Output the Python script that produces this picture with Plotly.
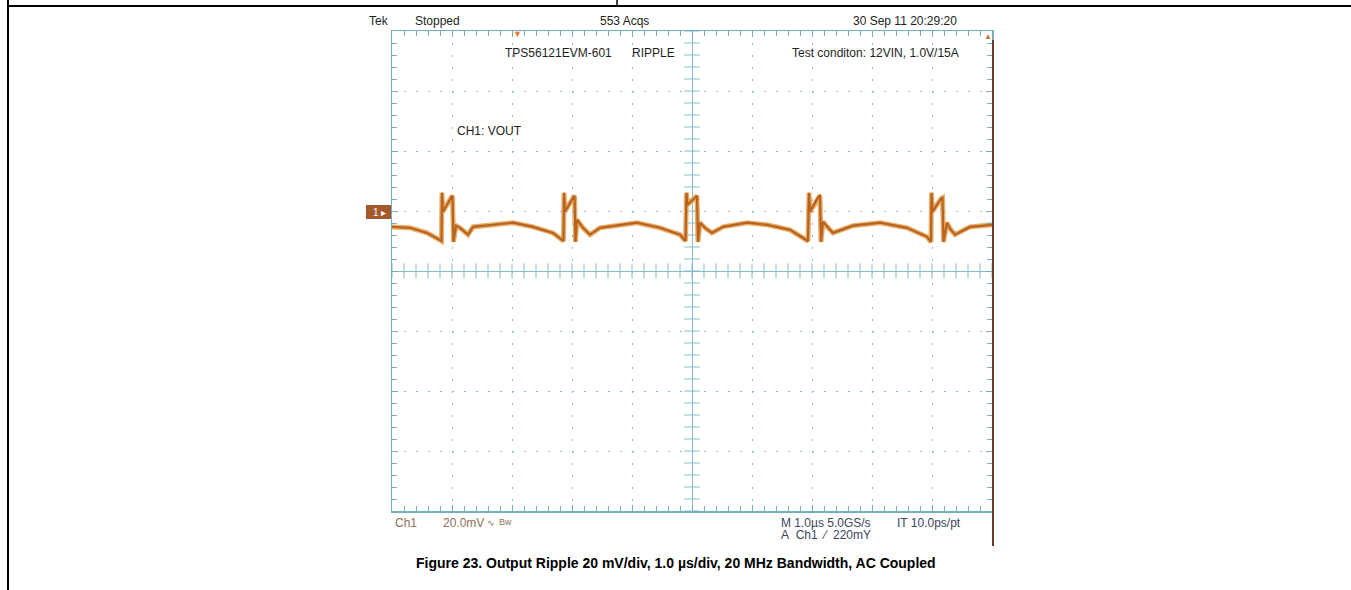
import numpy as np
import plotly.graph_objects as go

# ---------------- data ----------------
# time in microseconds (1.0 us/div, centre = 0), ripple in mV (20 mV/div, centre = 0)
TIME_US = [-5.000, -4.700, -4.417, -4.200, -4.175, -4.167, -4.150, -4.017, -3.992, -3.975,
           -3.933, -3.867, -3.733, -3.650, -3.317, -2.983, -2.650, -2.317, -2.167,
           -2.142, -2.133, -2.117, -1.983, -1.958, -1.942, -1.917, -1.817, -1.700, -1.533,
           -1.200, -0.917, -0.533, -0.200, -0.108,
           -0.092, -0.075, 0.058, 0.083, 0.100, 0.133, 0.233, 0.333, 0.517, 0.917, 1.250,
           1.633, 1.933,
           1.950, 1.967, 2.108, 2.133, 2.150, 2.183, 2.267, 2.350, 2.683, 3.133, 3.583,
           3.917, 3.983,
           3.992, 4.008, 4.150, 4.175, 4.192, 4.250, 4.300, 4.383, 4.633, 5.000]
RIPPLE_MV = [14.7, 14.4, 12.7, 10.4, 10.0, 26.1, 19.8, 24.4, 25.1, 9.7,
             15.1, 14.4, 12.1, 14.7, 15.4, 16.1, 14.7, 12.7, 10.4,
             10.0, 26.1, 19.8, 24.4, 25.1, 9.7, 17.1, 14.4, 12.1, 14.4,
             15.4, 16.1, 14.4, 12.1, 10.0,
             26.1, 22.1, 24.8, 25.1, 9.7, 16.1, 14.1, 12.7, 14.7, 16.1, 15.4,
             13.7, 10.0,
             26.1, 19.8, 24.8, 25.1, 9.7, 16.4, 14.4, 12.7, 15.1, 16.1, 14.4,
             11.4, 9.7,
             26.1, 19.8, 24.1, 24.4, 9.7, 16.1, 14.1, 12.1, 14.7, 15.4]

X_RANGE = [-5, 5]      # 10 horizontal divisions
Y_RANGE = [-80, 80]    # 8 vertical divisions
X_DIV, Y_DIV = 1.0, 20.0

TOP_LABELS = ["Tek", "Stopped", "553 Acqs", "30 Sep 11 20:29:20"]
NOTE_LABELS = ["TPS56121EVM-601", "RIPPLE", "Test conditon: 12VIN, 1.0V/15A", "CH1: VOUT"]
BOTTOM_LABELS = ["Ch1", "20.0mV", "∿", "Bw", "M 1.0µs 5.0GS/s", "IT 10.0ps/pt",
                 "A\u00a0\u00a0Ch1\u00a0\u00a0\u2044\u00a0\u00a0220mY"]
CAPTION = "Figure 23. Output Ripple 20 mV/div, 1.0 µs/div, 20 MHz Bandwidth, AC Coupled"

# ---------------- layout geometry ----------------
W, H = 1351, 590
PL, PR, PT, PB = 392, 992, 31, 511
GRAT = "#86bccb"
GRAT_EDGE = "#74afc0"
TXT = "#1e1e1e"
FONT = "Liberation Sans, Arial, sans-serif"


def px(x):
    return (x - PL) / (PR - PL)


def py(y):
    return (PB - y) / (PB - PT)


fig = go.Figure()

# cross ticks along the centre lines of the graticule
minor_x = np.arange(X_RANGE[0], X_RANGE[1] + 1e-9, X_DIV / 5)
minor_y = np.arange(Y_RANGE[0], Y_RANGE[1] + 1e-9, Y_DIV / 5)
fig.add_trace(go.Scatter(x=minor_x, y=np.zeros_like(minor_x), mode="markers",
                         marker=dict(symbol="line-ns", size=11, line=dict(color=GRAT, width=1)),
                         hoverinfo="skip", showlegend=False))
fig.add_trace(go.Scatter(x=np.zeros_like(minor_y), y=minor_y, mode="markers",
                         marker=dict(symbol="line-ew", size=11, line=dict(color=GRAT, width=1)),
                         hoverinfo="skip", showlegend=False))

# waveform: fuzzy halo + core
fig.add_trace(go.Scatter(x=TIME_US, y=RIPPLE_MV, mode="lines",
                         line=dict(color="rgba(228,160,78,0.85)", width=5),
                         hoverinfo="skip", showlegend=False))
fig.add_trace(go.Scatter(x=TIME_US, y=RIPPLE_MV, mode="lines",
                         line=dict(color="#b8621f", width=2.2),
                         showlegend=False))

axis_common = dict(showticklabels=False, showline=True, linecolor=GRAT_EDGE, linewidth=1.5,
                   mirror="ticks", ticks="inside", ticklen=6, tickcolor=GRAT_EDGE, tickwidth=1,
                   showgrid=True, gridcolor=GRAT, gridwidth=1, griddash="2px,10px",
                   zeroline=True, zerolinecolor=GRAT, zerolinewidth=1, fixedrange=True)
fig.update_xaxes(range=X_RANGE, dtick=X_DIV, tick0=0,
                 minor=dict(dtick=X_DIV / 5, ticks="inside", ticklen=5, tickcolor=GRAT_EDGE,
                            showgrid=False),
                 **axis_common)
fig.update_yaxes(range=Y_RANGE, dtick=Y_DIV, tick0=0,
                 minor=dict(dtick=Y_DIV / 5, ticks="inside", ticklen=5, tickcolor=GRAT_EDGE,
                            showgrid=False),
                 **axis_common)

ann = []


def label(text, x, y, size=12, color=TXT, anchor="left", family=FONT):
    ann.append(dict(text=text, x=px(x), y=py(y), xref="paper", yref="paper",
                    xanchor=anchor, yanchor="middle", showarrow=False,
                    font=dict(size=size, color=color, family=family)))


# scope header
label(TOP_LABELS[0], 367, 21)
label(TOP_LABELS[1], 413, 21)
label(TOP_LABELS[2], 598, 21)
label(TOP_LABELS[3], 959, 21, anchor="right")
# on-screen notes
label(NOTE_LABELS[0], 503, 53)
label(NOTE_LABELS[1], 630, 53)
label(NOTE_LABELS[2], 961, 53, anchor="right")
label(NOTE_LABELS[3], 455, 131)
# scope footer
CH_COL = "#8a7058"
label(BOTTOM_LABELS[0], 393, 523, color=CH_COL)
label(BOTTOM_LABELS[1], 441, 523, color=CH_COL)
label(BOTTOM_LABELS[2], 485, 523, size=9, color=CH_COL)
label(BOTTOM_LABELS[3], 497, 522, size=9, color=CH_COL)
M_COL = "#3c4660"
label(BOTTOM_LABELS[4], 779, 523, color=M_COL)
label(BOTTOM_LABELS[5], 895, 523, color=M_COL)
label(BOTTOM_LABELS[6], 779, 535, color=M_COL)
# caption
ann.append(dict(text="<b>" + CAPTION + "</b>", x=px(676), y=py(563), xref="paper", yref="paper",
                xanchor="center", yanchor="middle", showarrow=False,
                font=dict(size=14, color="#000000", family=FONT)))
# ground reference marker text
ann.append(dict(text="1 ▸", x=px(379), y=py(212), xref="paper", yref="paper",
                xanchor="center", yanchor="middle", showarrow=False,
                font=dict(size=10, color="#ffffff", family=FONT)))
# trigger position and level markers
ann.append(dict(text="▼", x=px(517), y=py(34), xref="paper", yref="paper",
                xanchor="center", yanchor="middle", showarrow=False,
                font=dict(size=9, color="#f07a28")))
ann.append(dict(text="▲", x=px(988), y=py(36), xref="paper", yref="paper",
                xanchor="center", yanchor="middle", showarrow=False,
                font=dict(size=8, color="#c07838")))

shapes = [
    # document table frame
    dict(type="line", xref="paper", yref="paper", x0=px(8), x1=px(W), y0=py(6), y1=py(6),
         line=dict(color="#000000", width=2)),
    dict(type="line", xref="paper", yref="paper", x0=px(8), x1=px(8), y0=py(0), y1=py(H),
         line=dict(color="#000000", width=2)),
    dict(type="line", xref="paper", yref="paper", x0=px(617), x1=px(617), y0=py(0), y1=py(6),
         line=dict(color="#000000", width=1.5)),
    # ground marker box
    dict(type="rect", xref="paper", yref="paper", x0=px(366), x1=px(391), y0=py(219), y1=py(205),
         fillcolor="#a4582c", line=dict(width=0), layer="above"),
    # trigger level bar at right edge
    dict(type="line", xref="paper", yref="paper", x0=px(993), x1=px(993), y0=py(40), y1=py(546),
         line=dict(color="#6e3828", width=2)),
]

fig.update_layout(width=W, height=H, autosize=False,
                  margin=dict(l=PL, r=W - PR, t=PT, b=H - PB, pad=0),
                  plot_bgcolor="#ffffff", paper_bgcolor="#ffffff",
                  annotations=ann, shapes=shapes, showlegend=False)

fig.write_html("out.html", config={"displayModeBar": False, "staticPlot": True},
               post_script="document.body.style.margin='0px';document.body.style.overflow='hidden';")
